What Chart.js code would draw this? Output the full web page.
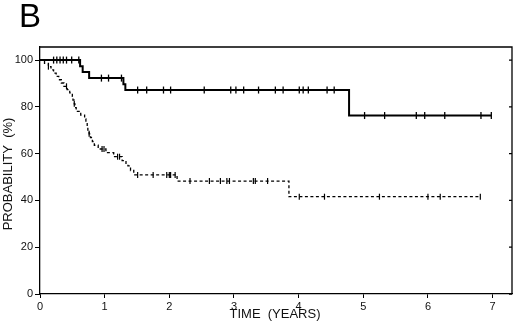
<!DOCTYPE html>
<html>
<head>
<meta charset="utf-8">
<script src="https://cdn.jsdelivr.net/npm/chart.js@4.4.1/dist/chart.umd.min.js"></script>
<style>body{margin:0;background:#fff}</style>
</head>
<body>
<canvas id="chart" width="520" height="326"></canvas>
<script>
const panelLabel = 'B';
const xTitle = 'TIME  (YEARS)';
const yTitle = 'PROBABILITY  (%)';
const xTicks = [0, 1, 2, 3, 4, 5, 6, 7];
const yTicks = [0, 20, 40, 60, 80, 100];

// solid curve: step times (years) and survival (%)
const solidTimes = [0, 0.62, 0.66, 0.76, 1.29, 1.32, 4.78, 6.98];
const solidSurv = [100, 97.4, 94.9, 92.3, 89.7, 87.2, 76.3, 76.3];
const solidCensor = [0.21, 0.26, 0.31, 0.36, 0.41, 0.49, 0.60, 0.95, 1.06, 1.26,
  1.51, 1.65, 1.91, 2.02, 2.54, 2.95, 3.03, 3.15, 3.38, 3.64, 3.76, 4.01, 4.07,
  4.15, 4.44, 4.55, 5.02, 5.33, 5.82, 5.95, 6.26, 6.82, 6.98];

// dashed curve
const dashedTimes = [0, 0.07, 0.13, 0.17, 0.21, 0.25, 0.29, 0.33, 0.37, 0.42, 0.46,
  0.50, 0.51, 0.53, 0.54, 0.56, 0.63, 0.69, 0.71, 0.73, 0.74, 0.76, 0.78, 0.81,
  0.84, 0.90, 1.02, 1.14, 1.27, 1.33, 1.36, 1.40, 1.45, 2.12, 3.85, 6.81];
const dashedSurv = [100, 98.6, 97.2, 95.8, 94.4, 93.0, 91.6, 90.2, 88.8, 87.4, 86.0,
  84.5, 82.9, 81.3, 79.7, 78.1, 76.5, 74.9, 73.3, 71.7, 70.1, 68.5, 66.9, 65.2,
  63.6, 62.0, 60.4, 58.7, 57.0, 55.3, 54.8, 52.8, 50.9, 48.3, 41.6, 41.6];
const dashedCensor = [0.13, 0.41, 0.53, 0.76, 0.96, 0.99, 1.20, 1.23, 1.51, 1.75,
  1.96, 2.00, 2.02, 2.09, 2.32, 2.62, 2.79, 2.89, 2.93, 3.30, 3.33, 3.52, 4.01,
  4.40, 5.25, 6.00, 6.19, 6.81];

const font = "'Liberation Sans', Arial, sans-serif";

function curve(times, surv) {
  return times.map((t, i) => ({ x: t, y: surv[i] }));
}

function marks(censor, times, surv) {
  return censor.map(c => {
    let k = 0;
    for (let i = 0; i < times.length; i++) if (times[i] <= c) k = i;
    return { x: c, y: surv[k] };
  });
}

const frame = {
  id: 'frame',
  afterDraw(chart) {
    const ctx = chart.ctx;
    const a = chart.chartArea;
    const y = chart.scales.y;
    ctx.save();
    ctx.strokeStyle = '#000';
    ctx.lineWidth = 1.3;
    ctx.beginPath();
    ctx.moveTo(a.left, a.top);
    ctx.lineTo(a.right, a.top);
    ctx.lineTo(a.right, a.bottom);
    yTicks.forEach(v => {
      const py = y.getPixelForValue(v);
      ctx.moveTo(a.right, py);
      ctx.lineTo(a.right - 3, py);
    });
    ctx.stroke();

    ctx.fillStyle = '#000';
    ctx.font = '33px ' + font;
    ctx.textBaseline = 'alphabetic';
    ctx.fillText(panelLabel, 19, 27);

    ctx.font = '13px ' + font;
    ctx.textAlign = 'center';
    ctx.textBaseline = 'middle';
    ctx.fillStyle = '#111';
    ctx.fillText(xTitle, 275, 314);
    ctx.translate(8, 174);
    ctx.rotate(-Math.PI / 2);
    ctx.fillText(yTitle, 0, 0);
    ctx.restore();
  }
};

new Chart(document.getElementById('chart'), {
  type: 'line',
  data: {
    datasets: [
      {
        data: curve(solidTimes, solidSurv),
        stepped: true,
        borderColor: '#000',
        borderWidth: 2,
        pointRadius: 0
      },
      {
        data: curve(dashedTimes, dashedSurv),
        stepped: true,
        borderColor: '#000',
        borderWidth: 1.3,
        borderDash: [3, 2.5],
        pointRadius: 0
      },
      {
        data: marks(solidCensor, solidTimes, solidSurv),
        showLine: false,
        pointStyle: 'line',
        rotation: 90,
        pointRadius: 3.5,
        borderColor: '#000',
        borderWidth: 1.3
      },
      {
        data: marks(dashedCensor, dashedTimes, dashedSurv),
        showLine: false,
        pointStyle: 'line',
        rotation: 90,
        pointRadius: 3,
        borderColor: '#000',
        borderWidth: 1.2
      }
    ]
  },
  options: {
    responsive: false,
    animation: false,
    layout: { padding: { top: 47, right: 8, left: 0, bottom: 0 } },
    plugins: { legend: { display: false }, tooltip: { enabled: false } },
    scales: {
      x: {
        type: 'linear',
        min: 0,
        max: 7.3,
        afterBuildTicks: s => { s.ticks = xTicks.map(v => ({ value: v })); },
        afterFit: s => { s.height = 32; },
        grid: { drawOnChartArea: false, tickLength: 4, color: '#000', lineWidth: 1 },
        border: { color: '#000', width: 1.3 },
        ticks: { padding: 2, color: '#111', font: { family: font, size: 11 } }
      },
      y: {
        min: 0,
        max: 105.6,
        afterBuildTicks: s => { s.ticks = yTicks.map(v => ({ value: v })); },
        afterFit: s => { s.width = 40; },
        grid: { drawOnChartArea: false, tickLength: 5, color: '#000', lineWidth: 1 },
        border: { color: '#000', width: 1.3 },
        ticks: { padding: 2, color: '#111', font: { family: font, size: 11 } }
      }
    }
  },
  plugins: [frame]
});
</script>
</body>
</html>
